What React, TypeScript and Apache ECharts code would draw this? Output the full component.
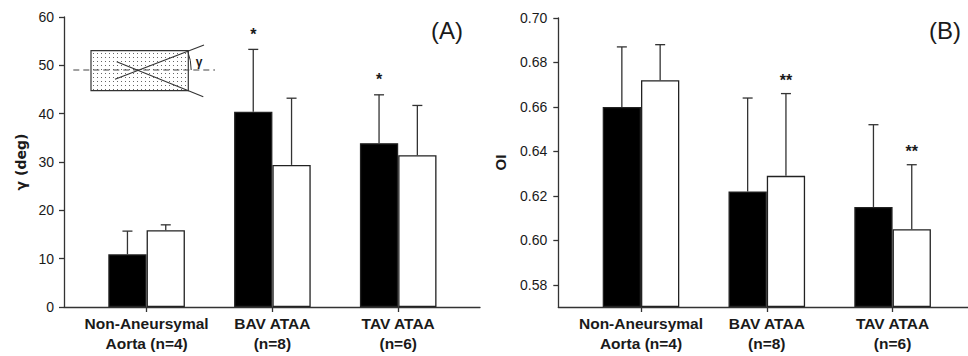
import React, { useEffect, useRef } from "react";
import * as echarts from "echarts";

// ---- data ----
const categories = ["Non-Aneursymal\nAorta (n=4)", "BAV ATAA\n(n=8)", "TAV ATAA\n(n=6)"];

const gammaTicks = [0, 10, 20, 30, 40, 50, 60];
const gammaBlack = [10.9, 40.4, 33.9];
const gammaBlackErr = [4.8, 12.9, 10.0];
const gammaWhite = [15.9, 29.4, 31.4];
const gammaWhiteErr = [1.1, 13.8, 10.3];
const gammaBlackStars = ["", "*", "*"];
const gammaWhiteStars = ["", "", ""];

const oiTicks = [0.58, 0.6, 0.62, 0.64, 0.66, 0.68, 0.7];
const oiBlack = [0.66, 0.622, 0.615];
const oiBlackErr = [0.027, 0.042, 0.037];
const oiWhite = [0.672, 0.629, 0.605];
const oiWhiteErr = [0.016, 0.037, 0.029];
const oiBlackStars = ["", "", ""];
const oiWhiteStars = ["", "**", "**"];

const panelLabels = ["(A)", "(B)"];
const yNames = ["γ (deg)", "OI"];

// ---- styles ----
const BAR_W = 38.3;
const LINE = "#333";
const TEXT = "#1a1a1a";
const TICK_FONT = "Liberation Sans, Arial, sans-serif";
const CAT_FONT = "Liberation Sans, Arial, sans-serif";
const NAME_FONT = "DejaVu Sans, Verdana, sans-serif";

function makePattern() {
  const c = document.createElement("canvas");
  c.width = 4;
  c.height = 4;
  const ctx = c.getContext("2d")!;
  ctx.fillStyle = "#ffffff";
  ctx.fillRect(0, 0, 4, 4);
  ctx.fillStyle = "#666";
  ctx.fillRect(1, 1, 1, 1);
  return c;
}

function errSeries(vals: number[], errs: number[], stars: string[], side: number, axisIdx: number, starGap: number) {
  return {
    type: "custom",
    xAxisIndex: axisIdx,
    yAxisIndex: axisIdx,
    z: 5,
    clip: false,
    data: vals.map((v, i) => [i, v, v + errs[i]]),
    encode: { x: 0, y: [1, 2] },
    renderItem: (params: any, api: any) => {
      const idx = api.value(0);
      const lo = api.coord([idx, api.value(1)]);
      const hi = api.coord([idx, api.value(2)]);
      const x = lo[0] + (side * BAR_W) / 2;
      const children: any[] = [
        { type: "line", shape: { x1: x, y1: lo[1], x2: x, y2: hi[1] }, style: { stroke: LINE, lineWidth: 1.3 } },
        { type: "line", shape: { x1: x - 5, y1: hi[1], x2: x + 5, y2: hi[1] }, style: { stroke: LINE, lineWidth: 1.3 } },
      ];
      const s = stars[params.dataIndex];
      if (s) {
        children.push({
          type: "text",
          style: {
            text: s,
            x,
            y: hi[1] - starGap,
            align: "center",
            verticalAlign: "middle",
            font: "bold 16px " + TICK_FONT,
            fill: TEXT,
          },
        });
      }
      return { type: "group", children };
    },
  };
}

function barSeries(vals: number[], black: boolean, axisIdx: number) {
  return {
    type: "bar",
    xAxisIndex: axisIdx,
    yAxisIndex: axisIdx,
    data: vals,
    barWidth: BAR_W,
    barGap: "0%",
    itemStyle: { color: black ? "#000" : "#fff", borderColor: "#222", borderWidth: 1.3 },
  };
}

export default function App() {
  const ref = useRef<HTMLDivElement>(null);
  useEffect(() => {
    if (!ref.current) return;
    const chart = echarts.init(ref.current, null, { renderer: "svg" });
    const pattern = makePattern();
    const grids = [
      { left: 64, top: 17, width: 416, height: 290 },
      { left: 83.7, top: 17, width: 377.4, height: 290 },
      { left: 558.3, top: 18, width: 409.7, height: 289 },
      { left: 578.1, top: 18, width: 377.4, height: 289 },
    ];
    const lineAxis = (gi: number) => ({
      gridIndex: gi,
      type: "value",
      min: 0,
      max: 1,
      axisLine: { show: true, lineStyle: { color: LINE, width: 1.3 } },
      axisTick: { show: false },
      axisLabel: { show: false },
      splitLine: { show: false },
    });
    const catAxis = (gi: number) => ({
      gridIndex: gi,
      type: "category",
      data: categories,
      axisLine: { show: false },
      axisTick: { show: true, alignWithLabel: true, interval: 0, length: 5, lineStyle: { color: LINE, width: 1.3 } },
      axisLabel: {
        interval: 0,
        hideOverlap: false,
        margin: 6,
        color: TEXT,
        fontFamily: CAT_FONT,
        fontWeight: "bold",
        fontSize: 15.5,
        lineHeight: 20,
      },
      splitLine: { show: false },
    });
    const hiddenY = (gi: number, min: number, max: number) => ({
      gridIndex: gi,
      type: "value",
      min,
      max,
      startValue: min,
      show: false,
      splitLine: { show: false },
    });
    const option: any = {
      animation: false,
      grid: grids,
      xAxis: [lineAxis(0), catAxis(1), lineAxis(2), catAxis(3)],
      yAxis: [
        {
          gridIndex: 0,
          type: "value",
          min: gammaTicks[0],
          max: gammaTicks[gammaTicks.length - 1],
          interval: 10,
          name: yNames[0],
          nameLocation: "middle",
          nameGap: 36,
          nameTextStyle: { fontFamily: NAME_FONT, fontWeight: "bold", fontSize: 14, color: TEXT },
          axisLine: { show: true, lineStyle: { color: LINE, width: 1.3 } },
          axisTick: { show: true, length: 5, lineStyle: { color: LINE, width: 1.3 } },
          axisLabel: { margin: 10, color: TEXT, fontFamily: TICK_FONT, fontSize: 14 },
          splitLine: { show: false },
        },
        hiddenY(1, 0, 60),
        {
          gridIndex: 2,
          type: "value",
          min: 0.57,
          max: 0.7,
          name: yNames[1],
          nameLocation: "middle",
          nameGap: 50,
          nameTextStyle: { fontFamily: TICK_FONT, fontWeight: "bold", fontSize: 15, color: TEXT },
          axisLine: { show: true, lineStyle: { color: LINE, width: 1.3 } },
          axisTick: { show: true, length: 5, customValues: oiTicks, lineStyle: { color: LINE, width: 1.3 } },
          axisLabel: {
            margin: 11,
            color: TEXT,
            fontFamily: TICK_FONT,
            fontSize: 14,
            customValues: oiTicks,
            formatter: (v: number) => v.toFixed(2),
          },
          splitLine: { show: false },
        },
        hiddenY(3, 0.57, 0.7),
      ],
      series: [
        barSeries(gammaBlack, true, 1),
        barSeries(gammaWhite, false, 1),
        barSeries(oiBlack, true, 3),
        barSeries(oiWhite, false, 3),
        errSeries(gammaBlack, gammaBlackErr, gammaBlackStars, -1, 1, 15),
        errSeries(gammaWhite, gammaWhiteErr, gammaWhiteStars, 1, 1, 15),
        errSeries(oiBlack, oiBlackErr, oiBlackStars, -1, 3, 13),
        errSeries(oiWhite, oiWhiteErr, oiWhiteStars, 1, 3, 13),
      ],
      graphic: [
        {
          type: "text",
          x: 447,
          y: 30,
          style: { text: panelLabels[0], font: "24px " + TICK_FONT, fill: TEXT, align: "center", verticalAlign: "middle" },
        },
        {
          type: "text",
          x: 945,
          y: 30,
          style: { text: panelLabels[1], font: "24px " + TICK_FONT, fill: TEXT, align: "center", verticalAlign: "middle" },
        },
        {
          type: "rect",
          shape: { x: 91, y: 50.7, width: 97.3, height: 40 },
          style: { fill: { image: pattern, repeat: "repeat" }, stroke: LINE, lineWidth: 1.2 },
        },
        {
          type: "line",
          shape: { x1: 73.3, y1: 70, x2: 215, y2: 70 },
          style: { stroke: "#444", lineWidth: 1.1, lineDash: [6, 4] },
        },
        {
          type: "line",
          shape: { x1: 115, y1: 79.3, x2: 204, y2: 45 },
          style: { stroke: "#333", lineWidth: 1.1 },
        },
        {
          type: "line",
          shape: { x1: 116.7, y1: 61.7, x2: 203.3, y2: 96.7 },
          style: { stroke: "#333", lineWidth: 1.1 },
        },
        {
          type: "arc",
          shape: { cx: 139.2, cy: 70, r: 52, startAngle: -0.37, endAngle: 0, clockwise: true },
          style: { stroke: "#333", lineWidth: 1, fill: null },
        },
        {
          type: "text",
          x: 199,
          y: 62,
          style: { text: "γ", font: "bold 12px " + TICK_FONT, fill: TEXT, align: "center", verticalAlign: "middle" },
        },
      ],
    };
    chart.setOption(option);
    return () => chart.dispose();
  }, []);
  return (
    <div
      ref={ref}
      style={{ position: "fixed", left: 0, top: 0, width: 968, height: 356, background: "#fff" }}
    />
  );
}
